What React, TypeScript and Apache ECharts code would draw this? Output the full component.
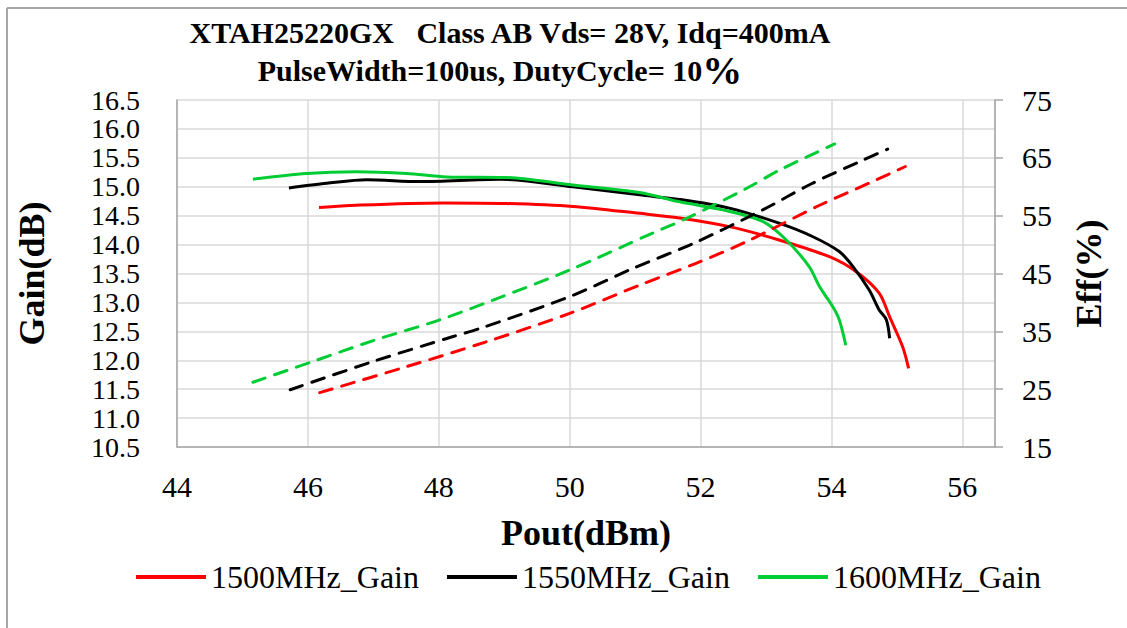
import React, { useEffect, useRef } from "react";
import * as echarts from "echarts";

const titleLine1 = "XTAH25220GX   Class AB Vds= 28V, Idq=400mA";
const titleLine2 = "PulseWidth=100us, DutyCycle= 10";
const titlePercent = "%";
const xAxisName = "Pout(dBm)";
const yAxisName = "Gain(dB)";
const y2AxisName = "Eff(%)";

const seriesNames = ["1500MHz_Gain", "1550MHz_Gain", "1600MHz_Gain"];
const effNames = ["1500MHz_Eff", "1550MHz_Eff", "1600MHz_Eff"];
const colors = ["#ff0000", "#000000", "#00cc33"];

// 1500 MHz
const pout1500G = [46.17, 46.74, 48.06, 49.03, 50.05, 51.07, 51.68, 52.44, 53.2, 53.97, 54.38, 54.73, 54.89, 55.09, 55.18];
const gain1500 = [14.64, 14.68, 14.72, 14.71, 14.66, 14.54, 14.46, 14.31, 14.08, 13.79, 13.53, 13.16, 12.75, 12.23, 11.86];
const pout1500E = [46.18, 47.51, 48.73, 50.0, 51.07, 51.94, 52.7, 53.82, 54.63, 55.13];
const eff1500 = [24.4, 28.9, 33.2, 38.1, 43.0, 46.8, 50.5, 56.8, 60.9, 63.5];

// 1550 MHz
const pout1550G = [45.71, 46.29, 46.9, 47.71, 48.93, 50.05, 51.07, 51.68, 52.44, 53.2, 53.71, 54.12, 54.33, 54.58, 54.73, 54.84, 54.89];
const gain1550 = [14.98, 15.06, 15.12, 15.09, 15.13, 15.0, 14.86, 14.78, 14.63, 14.37, 14.14, 13.88, 13.62, 13.21, 12.87, 12.7, 12.38];
const pout1550E = [45.73, 47.0, 48.22, 48.63, 50.0, 50.97, 51.89, 52.95, 53.71, 54.48, 54.86];
const eff1550 = [24.9, 29.8, 34.1, 35.5, 41.0, 45.9, 50.2, 56.0, 60.6, 64.6, 66.5];

// 1600 MHz
const pout1600G = [45.16, 45.98, 46.74, 47.51, 48.12, 49.03, 50.05, 51.07, 51.68, 52.34, 52.95, 53.31, 53.66, 53.82, 54.02, 54.12, 54.22];
const gain1600 = [15.13, 15.23, 15.26, 15.23, 15.17, 15.16, 15.03, 14.9, 14.74, 14.6, 14.4, 14.08, 13.62, 13.27, 12.93, 12.7, 12.26];
const pout1600E = [45.16, 46.08, 47.0, 48.02, 48.83, 50.0, 51.27, 51.78, 52.7, 53.21, 54.05];
const eff1600 = [26.2, 29.8, 33.4, 37.0, 40.4, 45.6, 52.0, 54.5, 59.7, 62.9, 67.4];

const gainX = [pout1500G, pout1550G, pout1600G];
const gainY = [gain1500, gain1550, gain1600];
const effX = [pout1500E, pout1550E, pout1600E];
const effY = [eff1500, eff1550, eff1600];

const FONT = "'Liberation Serif', 'Times New Roman', serif";

const zip = (xs: number[], ys: number[]) => xs.map((x, i) => [x, ys[i]]);

export default function App() {
  const ref = useRef<HTMLDivElement>(null);
  useEffect(() => {
    if (!ref.current) return;
    const chart = echarts.init(ref.current, null, { renderer: "svg" });
    const series: any[] = [];
    for (let i = 0; i < 3; i++) {
      series.push({
        name: seriesNames[i],
        type: "line",
        data: zip(gainX[i], gainY[i]),
        yAxisIndex: 0,
        symbol: "none",
        smooth: 0.3,
        lineStyle: { color: colors[i], width: 3 },
        itemStyle: { color: colors[i] },
      });
    }
    for (let i = 0; i < 3; i++) {
      series.push({
        name: effNames[i],
        type: "line",
        data: zip(effX[i], effY[i]),
        yAxisIndex: 1,
        symbol: "none",
        smooth: 0.3,
        lineStyle: { color: colors[i], width: 3, type: [13, 10], cap: "round" },
        itemStyle: { color: colors[i] },
      });
    }
    chart.setOption({
      animation: false,
      backgroundColor: "#ffffff",
      textStyle: { fontFamily: FONT },
      grid: { left: 177, right: 132, top: 100, bottom: 181, containLabel: false },
      graphic: [
        { type: "line", shape: { x1: 7, y1: 8, x2: 1127, y2: 8 }, style: { stroke: "#a6a6a6", lineWidth: 2 } },
        { type: "line", shape: { x1: 7, y1: 8, x2: 7, y2: 628 }, style: { stroke: "#a6a6a6", lineWidth: 2 } },
        {
          type: "text",
          x: 510,
          y: 32,
          style: {
            text: titleLine1,
            fontFamily: FONT,
            fontWeight: "bold",
            fontSize: 30,
            fill: "#000",
            textAlign: "center",
            textVerticalAlign: "middle",
          },
        },
        {
          type: "text",
          x: 500,
          y: 70,
          style: {
            text: "{a|" + titleLine2 + "}{b|" + titlePercent + "}",
            rich: {
              a: { fontFamily: FONT, fontWeight: "bold", fontSize: 30, fill: "#000" },
              b: { fontFamily: FONT, fontWeight: "bold", fontSize: 40, fill: "#000" },
            },
            textAlign: "center",
            textVerticalAlign: "middle",
          },
        },
      ],
      legend: {
        data: seriesNames.map((n) => ({ name: n, icon: "rect" })),
        left: 131,
        top: 556,
        itemWidth: 70,
        itemHeight: 4,
        itemGap: 28,
        textStyle: { fontFamily: FONT, fontSize: 32, color: "#000" },
      },
      xAxis: {
        type: "value",
        min: 44,
        max: 56.5,
        interval: 2,
        name: xAxisName,
        nameLocation: "middle",
        nameGap: 68,
        nameTextStyle: { fontFamily: FONT, fontSize: 36, fontWeight: "bold", color: "#000" },
        axisLine: { show: true, lineStyle: { color: "#a6a6a6", width: 1.5 } },
        axisTick: { show: false },
        axisLabel: {
          fontFamily: FONT,
          fontSize: 30,
          color: "#000",
          margin: 24,
          showMaxLabel: false,
          formatter: (v: number) => (v % 2 === 0 ? String(v) : ""),
        },
        splitLine: { show: true, lineStyle: { color: "#d9d9d9", width: 1.5 } },
      },
      yAxis: [
        {
          type: "value",
          min: 10.5,
          max: 16.5,
          interval: 0.5,
          name: yAxisName,
          nameLocation: "middle",
          nameRotate: 90,
          nameGap: 127,
          nameTextStyle: { fontFamily: FONT, fontSize: 36, fontWeight: "bold", color: "#000" },
          axisLine: { show: true, lineStyle: { color: "#a6a6a6", width: 1.5 } },
          axisTick: { show: false },
          axisLabel: {
            fontFamily: FONT,
            fontSize: 28,
            lineHeight: 28,
            color: "#000",
            margin: 37,
            showMinLabel: true,
            showMaxLabel: true,
            formatter: (v: number) => v.toFixed(1),
          },
          splitLine: { show: true, lineStyle: { color: "#d9d9d9", width: 1.5 } },
        },
        {
          type: "value",
          min: 15,
          max: 75,
          interval: 10,
          position: "right",
          name: y2AxisName,
          nameLocation: "middle",
          nameRotate: 90,
          nameGap: 76,
          nameTextStyle: { fontFamily: FONT, fontSize: 36, fontWeight: "bold", color: "#000" },
          axisLine: { show: true, lineStyle: { color: "#a6a6a6", width: 1.5 } },
          axisTick: { show: true, length: 8, lineStyle: { color: "#a6a6a6", width: 1.5 } },
          axisLabel: { fontFamily: FONT, fontSize: 30, color: "#000", margin: 27 },
          splitLine: { show: false },
        },
      ],
      series,
    });
    return () => chart.dispose();
  }, []);
  return (
    <div
      ref={ref}
      style={{ position: "absolute", left: 0, top: 0, width: 1127, height: 628, background: "#fff" }}
    />
  );
}
